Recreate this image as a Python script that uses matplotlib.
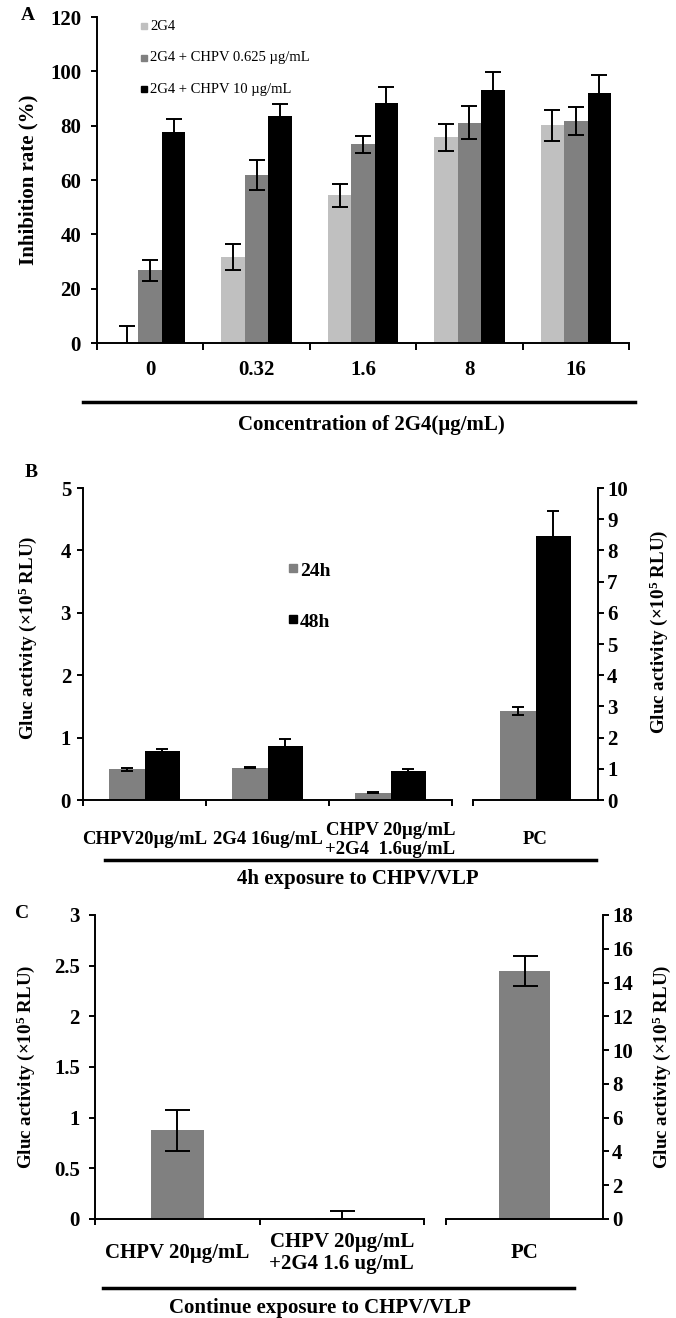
import matplotlib
matplotlib.use('Agg')
import matplotlib.pyplot as plt
from matplotlib.lines import Line2D
import numpy as np

plt.rcParams['font.family'] = ['Liberation Serif', 'DejaVu Serif']
plt.rcParams['font.weight'] = 'bold'
plt.rcParams['mathtext.default'] = 'regular'

# ---------------- data ----------------
a_categories = ['0', '0.32', '1.6', '8', '16']
a_series = ['2G4', '2G4 + CHPV 0.625 µg/mL', '2G4 + CHPV 10 µg/mL']
a_2g4 = [0, 31.5, 54.3, 75.7, 80.1]
a_2g4_err = [6.1, 4.8, 4.1, 5.0, 5.7]
a_low = [26.8, 61.8, 73.2, 81.1, 81.6]
a_low_err = [3.9, 5.5, 3.1, 6.1, 5.2]
a_high = [77.8, 83.4, 88.5, 93.2, 92.0]
a_high_err = [4.6, 4.5, 5.9, 6.5, 6.5]
a_colors = ['#c0c0c0', '#808080', '#000000']

b_groups = ['CHPV20µg/mL', '2G4 16ug/mL', 'CHPV 20µg/mL\n+2G4  1.6ug/mL']
b_series = ['24h', '48h']
b_24h = [0.49, 0.52, 0.12]
b_24h_err = [0.03, 0.015, 0.015]
b_48h = [0.79, 0.87, 0.47]
b_48h_err = [0.03, 0.10, 0.025]
b_pc_label = 'PC'
b_pc = [2.85, 8.45]          # right axis scale
b_pc_err = [0.13, 0.82]
b_colors = ['#808080', '#000000']

c_groups = ['CHPV 20µg/mL', 'CHPV 20µg/mL\n+2G4 1.6 ug/mL']
c_vals = [0.875, 0.005]
c_err = [0.2, 0.075]
c_pc_label = 'PC'
c_pc = [14.7]                # right axis scale
c_pc_err = [0.9]
c_color = '#808080'

ylab_gluc = 'Gluc activity (×10$^{5}$ RLU)'

# ---------------- figure ----------------
W, H = 676, 1318
fig = plt.figure(figsize=(W / 100, H / 100), dpi=100)


def rect(x0, y0, x1, y1):
    return [x0 / W, 1 - y1 / H, (x1 - x0) / W, (y1 - y0) / H]


def pt(p):
    return p * 0.72


def hline(x0, x1, y, lw=2.5):
    fig.add_artist(Line2D([x0 / W, x1 / W], [1 - y / H, 1 - y / H],
                          color='black', lw=lw, transform=fig.transFigure))


def ftext(x, y, s, **kw):
    fig.text(x / W, 1 - y / H, s, **kw)


SPW = 1.4
err_kw = dict(ecolor='black', elinewidth=1.4, capthick=1.4)


def base_style(ax, left=True):
    ax.spines['top'].set_visible(False)
    if left:
        ax.spines['right'].set_visible(False)
    else:
        ax.spines['left'].set_visible(False)
    for s in ax.spines.values():
        s.set_linewidth(SPW)
    ax.tick_params(which='major', direction='out', width=SPW, length=pt(6))


# ---------------- Panel A ----------------
axA = fig.add_axes(rect(97, 17, 629, 343))
base_style(axA)
n = len(a_categories)
x = np.arange(n) + 0.5
bw = 0.22
for j, (vals, errs, col) in enumerate(zip([a_2g4, a_low, a_high],
                                          [a_2g4_err, a_low_err, a_high_err], a_colors)):
    axA.bar(x + (j - 1) * bw, vals, bw, color=col, yerr=errs, capsize=6,
            error_kw=err_kw, zorder=2)
axA.set_xlim(0, n)
axA.set_ylim(0, 120)
axA.set_yticks(np.arange(0, 121, 20))
axA.set_xticks(np.arange(0, n + 1))
axA.set_xticklabels([])
axA.set_xticks(x, minor=True)
axA.set_xticklabels(a_categories, minor=True, fontsize=15)
axA.tick_params(axis='x', which='minor', length=0, pad=pt(27))
for lab in axA.get_xticklabels(minor=True):
    lab.set_va('center')
axA.tick_params(axis='x', which='major', length=pt(7))
axA.tick_params(axis='y', labelsize=15, pad=pt(10))
for k, (lab, col) in enumerate(zip(a_series, a_colors)):
    yy = 1 - (26 + k * 31.5 - 17) / 326
    xx = (144 - 97) / 532
    axA.plot([xx], [yy], marker='s', ms=5, color=col, transform=axA.transAxes,
             clip_on=False, linestyle='none')
    axA.text(xx + 0.012, yy, lab, transform=axA.transAxes, va='center', ha='left',
             fontsize=10.5, fontweight='normal')
fig.text(28 / W, 1 - 180 / H, 'Inhibition rate (%)', rotation=90, ha='center',
         va='center', fontsize=15)
hline(83, 635, 402)
ftext(371, 425, 'Concentration of 2G4(µg/mL)', ha='center', va='center', fontsize=15)
ftext(28, 15, 'A', ha='center', va='center', fontsize=14)

# ---------------- Panel B ----------------
axB1 = fig.add_axes(rect(83, 488, 452, 800))
axB2 = fig.add_axes(rect(473, 488, 598, 800))
base_style(axB1)
base_style(axB2, left=False)
nb = len(b_groups)
xb = np.arange(nb) + 0.5
bwb = 0.285
for j, (vals, errs, col) in enumerate(zip([b_24h, b_48h], [b_24h_err, b_48h_err], b_colors)):
    axB1.bar(xb + (j - 0.5) * bwb, vals, bwb, color=col, yerr=errs, capsize=4.5,
             error_kw=err_kw, zorder=2)
axB1.set_xlim(0, nb)
axB1.set_ylim(0, 5)
axB1.set_yticks(np.arange(0, 6, 1))
axB1.set_xticks(np.arange(0, nb + 1))
axB1.set_xticklabels([])
axB1.set_xticks(xb, minor=True)
axB1.set_xticklabels(b_groups, minor=True, fontsize=13.5, linespacing=1.1)
axB1.tick_params(axis='x', which='minor', length=0, pad=pt(40))
for lab in axB1.get_xticklabels(minor=True):
    lab.set_va('center')
axB1.tick_params(axis='y', labelsize=15, pad=pt(6))

bwp = 0.284
for j, (v, e, col) in enumerate(zip(b_pc, b_pc_err, b_colors)):
    axB2.bar([0.5 + (j - 0.5) * bwp], [v], bwp, color=col, yerr=[e], capsize=4.5,
             error_kw=err_kw, zorder=2)
axB2.set_xlim(0, 1)
axB2.set_ylim(0, 10)
axB2.yaxis.tick_right()
axB2.set_yticks(np.arange(0, 11, 1))
axB2.set_xticks([0])
axB2.set_xticklabels([])
axB2.set_xticks([0.5], minor=True)
axB2.set_xticklabels([b_pc_label], minor=True, fontsize=13.5)
axB2.tick_params(axis='x', which='minor', length=0, pad=pt(40))
for lab in axB2.get_xticklabels(minor=True):
    lab.set_va('center')
axB2.tick_params(axis='y', labelsize=15, pad=pt(3))

for k, (lab, col) in enumerate(zip(b_series, b_colors)):
    yy = (800 - (568 + k * 51)) / 312
    xx = (293 - 83) / 369
    axB1.plot([xx], [yy], marker='s', ms=6, color=col, transform=axB1.transAxes,
              clip_on=False, linestyle='none')
    axB1.text(xx + 0.018, yy - 0.01, lab, transform=axB1.transAxes, va='center',
              ha='left', fontsize=14)
ftext(28, 638, ylab_gluc, rotation=90, ha='center', va='center', fontsize=13.7)
ftext(659, 632, ylab_gluc, rotation=90, ha='center', va='center', fontsize=13.7)
hline(105, 596, 860)
ftext(358, 879, '4h exposure to CHPV/VLP', ha='center', va='center', fontsize=15)
ftext(31, 472, 'B', ha='center', va='center', fontsize=14)

# ---------------- Panel C ----------------
axC1 = fig.add_axes(rect(95, 915, 424, 1219))
axC2 = fig.add_axes(rect(446, 915, 603, 1219))
base_style(axC1)
base_style(axC2, left=False)
nc = len(c_groups)
xc = np.arange(nc) + 0.5
bwc = 0.32
axC1.bar(xc, c_vals, bwc, color=c_color, yerr=c_err, capsize=9,
         error_kw=err_kw, zorder=2)
axC1.set_xlim(0, nc)
axC1.set_ylim(0, 3)
axC1.set_yticks(np.arange(0, 3.01, 0.5))
axC1.set_yticklabels(['0', '0.5', '1', '1.5', '2', '2.5', '3'])
axC1.set_xticks(np.arange(0, nc + 1))
axC1.set_xticklabels([])
axC1.set_xticks(xc, minor=True)
axC1.set_xticklabels(c_groups, minor=True, fontsize=15, linespacing=1.1)
axC1.tick_params(axis='x', which='minor', length=0, pad=pt(34))
for lab in axC1.get_xticklabels(minor=True):
    lab.set_va('center')
axC1.tick_params(axis='y', labelsize=15, pad=pt(9))

axC2.bar([0.5], c_pc, 0.32, color=c_color, yerr=c_pc_err, capsize=9,
         error_kw=err_kw, zorder=2)
axC2.set_xlim(0, 1)
axC2.set_ylim(0, 18)
axC2.yaxis.tick_right()
axC2.set_yticks(np.arange(0, 19, 2))
axC2.set_xticks([0])
axC2.set_xticklabels([])
axC2.set_xticks([0.5], minor=True)
axC2.set_xticklabels([c_pc_label], minor=True, fontsize=15)
axC2.tick_params(axis='x', which='minor', length=0, pad=pt(34))
for lab in axC2.get_xticklabels(minor=True):
    lab.set_va('center')
axC2.tick_params(axis='y', labelsize=15, pad=pt(3))

ftext(26, 1067, ylab_gluc, rotation=90, ha='center', va='center', fontsize=13.7)
ftext(662, 1067, ylab_gluc, rotation=90, ha='center', va='center', fontsize=13.7)
hline(103, 574, 1288)
ftext(320, 1308, 'Continue exposure to CHPV/VLP', ha='center', va='center', fontsize=15)
ftext(22, 913, 'C', ha='center', va='center', fontsize=14)

fig.savefig('out.png', dpi=100)
